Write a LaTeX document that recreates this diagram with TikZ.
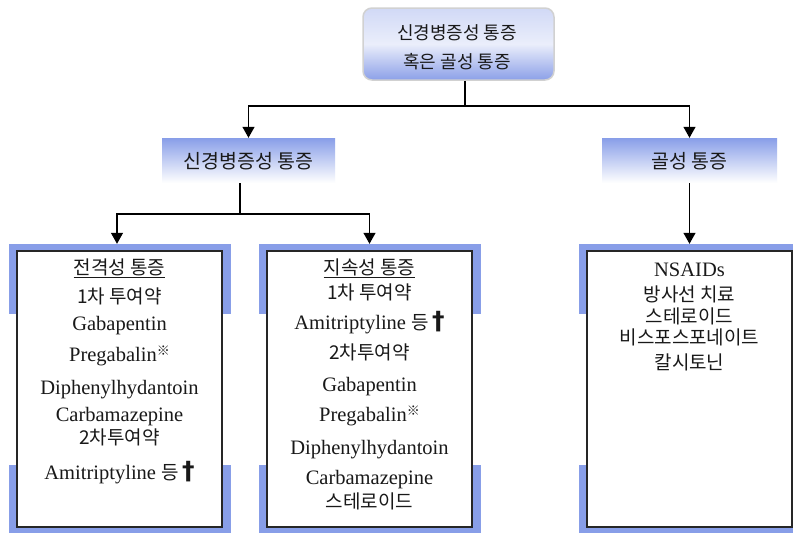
\documentclass[tikz,border=0pt]{standalone}
\usepackage{fontspec}
\setmainfont{Liberation Serif}
\newfontfamily\kr{Noto Sans CJK KR}
\newfontfamily\djv{DejaVu Sans}
\usetikzlibrary{arrows.meta}
\definecolor{frameblue}{RGB}{136,158,232}
\definecolor{txt}{RGB}{25,25,25}
\definecolor{topblue}{RGB}{140,160,232}
\newcommand{\kref}{\raisebox{6pt}{\kr\fontsize{13}{13}\selectfont ※}}
\newcommand{\mydag}{\,{\djv\bfseries\fontsize{25}{25}\selectfont †}}
\newcommand{\deung}{{\kr\fontsize{19}{20}\selectfont 등}}
\begin{document}
\begin{tikzpicture}[x=1pt,y=-1pt,
  line/.style={draw=black, line width=1.2pt},
  arr/.style={line, -{Triangle[width=12pt,length=11pt]}},
  lat/.style={font=\fontsize{20.5}{22}\selectfont, text=txt, inner sep=0pt, anchor=base},
  kor/.style={font=\kr\fontsize{19}{20}\selectfont, text=txt, inner sep=0pt, anchor=base},
  topbox/.style={draw=black!18, line width=1.5pt, rounded corners=9pt,
     top color=topblue!40, bottom color=topblue, middle color=topblue!18,
     minimum width=191pt, minimum height=72pt, inner sep=0pt},
  midbox/.style={top color=frameblue, bottom color=white, draw=none,
     minimum height=45pt, inner sep=0pt},
  frame/.style={fill=frameblue, draw=none, inner sep=0pt},
  whitebox/.style={fill=white, draw=black!85, line width=1.2pt, inner sep=0pt},
]
\useasboundingbox (0,0) rectangle (793,533);
\fill[white] (0,0) rectangle (793,533);

% top box
\node[topbox] (top) at (458.5,44) {};
\node[kor, font=\kr\fontsize{18}{20}\selectfont] (t1) at (457,39.5) {신경병증성 통증};
\node[kor, font=\kr\fontsize{18}{20}\selectfont] (t2) at (457,68.5) {혹은 골성 통증};

% second level
\node[midbox, minimum width=173pt] (neu) at (248.5,160.5) {};
\node[kor, font=\kr\fontsize{19.5}{20}\selectfont] (neut) at (248.5,168.5) {신경병증성 통증};
\node[midbox, minimum width=175pt] (bone) at (689.5,160.5) {};
\node[kor, font=\kr\fontsize{19.5}{20}\selectfont] (bonet) at (689.5,168.5) {골성 통증};

% frames
\node[frame, minimum width=222pt, minimum height=289pt] (f1) at (120,388.5) {};
\node[frame, minimum width=222pt, minimum height=289pt] (f2) at (369.5,388.5) {};
\node[frame, minimum width=222pt, minimum height=289pt] (f3) at (690,388.5) {};
\fill[white] (8,314) rectangle (18,465);
\fill[white] (221,314) rectangle (232,465);
\fill[white] (258,314) rectangle (268,465);
\fill[white] (471,314) rectangle (481,465);
\fill[white] (578,314) rectangle (588,465);
\node[whitebox, minimum width=205pt, minimum height=276pt] (b1) at (119.5,389) {};
\node[whitebox, minimum width=205pt, minimum height=276pt] (b2) at (369.5,389) {};
\node[whitebox, minimum width=205pt, minimum height=276pt] (b3) at (689.5,389) {};

% connectors
\coordinate (j1) at (465,106);
\coordinate (j2) at (240,214);
\draw[line] (top.south -| j1) -- (j1);
\draw[arr] (j1) -| (neu.north);
\draw[arr] (j1) -| (bone.north);
\draw[line] (neu.south -| j2) -- (j2);
\draw[arr] (j2) -| ([xshift=-3pt]f1.north);
\draw[arr] (j2) -| (f2.north);
\draw[arr] (bone.south) -- (f3.north -| bone.south);

% left box text
\node[kor] (a1) at (119.5,274.5) {\underline{전격성 통증}};
\node[kor] (a2) at (119.5,303.5) {1차 투여약};
\node[lat] (a3) at (119.5,330.5) {Gabapentin};
\node[lat] (a4) at (119.5,361.5) {Pregabalin\kref};
\node[lat] (a5) at (119.5,394.5) {Diphenylhydantoin};
\node[lat] (a6) at (119.5,421.5) {Carbamazepine};
\node[kor] (a7) at (119.5,444.5) {2차투여약};
\node[lat] (a8) at (119.5,479.5) {Amitriptyline \deung\mydag};

% middle box text
\node[kor] (m1) at (369.5,274.5) {\underline{지속성 통증}};
\node[kor] (m2) at (369.5,299.5) {1차 투여약};
\node[lat] (m3) at (369.5,329.5) {Amitriptyline \deung\mydag};
\node[kor] (m4) at (369.5,359.5) {2차투여약};
\node[lat] (m5) at (369.5,391.5) {Gabapentin};
\node[lat] (m6) at (369.5,421.5) {Pregabalin\kref};
\node[lat] (m7) at (369.5,454.5) {Diphenylhydantoin};
\node[lat] (m8) at (369.5,484.5) {Carbamazepine};
\node[kor] (m9) at (369.5,508.5) {스테로이드};

% right box text
\node[lat] (r1) at (689.5,276.5) {NSAIDs};
\node[kor] (r2) at (689.5,301.5) {방사선 치료};
\node[kor] (r3) at (689.5,323.5) {스테로이드};
\node[kor] (r4) at (689.5,344.5) {비스포스포네이트};
\node[kor] (r5) at (689.5,369.5) {칼시토닌};
\end{tikzpicture}
\end{document}
